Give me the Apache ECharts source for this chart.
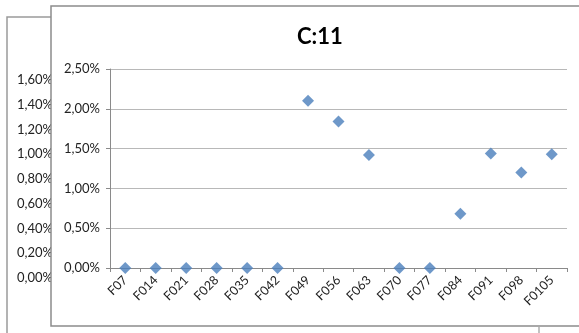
<!DOCTYPE html>
<html><head><meta charset="utf-8">
<script src="https://cdn.jsdelivr.net/npm/echarts@6/dist/echarts.min.js"></script>
<style>html,body{margin:0;padding:0;background:#fff;}#c{width:579px;height:333px;}</style>
</head><body><div id="c"></div>
<script>
var categories = ['F07','F014','F021','F028','F035','F042','F049','F056','F063','F070','F077','F084','F091','F098','F0105'];
var values = [0, 0, 0, 0, 0, 0, 0.0210, 0.0184, 0.0142, 0, 0, 0.0068, 0.0144, 0.0120, 0.0143];
var backTicks = { min: 0, max: 0.016, interval: 0.002 };
var frontTicks = { min: 0, max: 0.025, interval: 0.005 };
var titleText = 'C:11';

function pct(v){ return (v*100).toFixed(2).replace('.', ',') + '%'; }
var font = 'Lato, "Liberation Sans", sans-serif';
var chart = echarts.init(document.getElementById('c'), null, {renderer:'canvas'});
chart.setOption({
  animation: false,
  backgroundColor: '#fff',
  title: { text: titleText, left: 292, top: 21,
    textStyle: { fontFamily: font, fontWeight: 'bold', fontSize: 22, color: '#000' } },
  graphic: { elements: [
    { type: 'polyline', z: 1, shape: { points: [[51,17],[7,17],[7,340]] }, style: { stroke: '#9a9a9a', lineWidth: 1.5, fill: null } },
    { type: 'rect', z: 2, shape: { x: 51, y: 6, width: 560, height: 320 }, style: { fill: '#fff', stroke: '#8c8c8c', lineWidth: 1.5 } },
    { type: 'line', z: 2, shape: { x1: 539, y1: 327, x2: 539, y2: 340 }, style: { stroke: '#9a9a9a', lineWidth: 1.2 } }
  ]},
  grid: [
    { left: 57, right: 500, top: 80, bottom: 55, z: 0 },
    { left: 110, right: 12, top: 69, bottom: 65, z: 5 }
  ],
  xAxis: [
    { type: 'category', gridIndex: 0, data: categories, show: false },
    { type: 'category', gridIndex: 1, data: categories, z: 5, boundaryGap: true,
      axisLine: { lineStyle: { color: '#8a8a8a', width: 1 } },
      axisTick: { show: true, alignWithLabel: false, length: 4, lineStyle: { color: '#8a8a8a' } },
      axisLabel: { rotate: 45, interval: 0, fontFamily: font, fontSize: 12.5, color: '#222', margin: 10 },
      splitLine: { show: false } }
  ],
  yAxis: [
    { type: 'value', gridIndex: 0, min: backTicks.min, max: backTicks.max, interval: backTicks.interval, z: 0,
      axisLine: { show: false }, axisTick: { show: false }, splitLine: { show: false },
      axisLabel: { formatter: pct, fontFamily: font, fontSize: 13, color: '#222', margin: 4 } },
    { type: 'value', gridIndex: 1, min: frontTicks.min, max: frontTicks.max, interval: frontTicks.interval, z: 5,
      axisLine: { show: true, lineStyle: { color: '#8a8a8a', width: 1 } },
      axisTick: { show: true, length: 4, lineStyle: { color: '#8a8a8a' } },
      splitLine: { show: true, lineStyle: { color: '#b8b8b8', width: 1 } },
      axisLabel: { formatter: pct, fontFamily: font, fontSize: 13, color: '#222', margin: 10 } }
  ],
  series: [
    { type: 'scatter', xAxisIndex: 1, yAxisIndex: 1, z: 6, data: values,
      symbol: 'diamond', symbolSize: 12,
      itemStyle: { color: '#4a7ebb' } }
  ]
});
</script></body></html>
